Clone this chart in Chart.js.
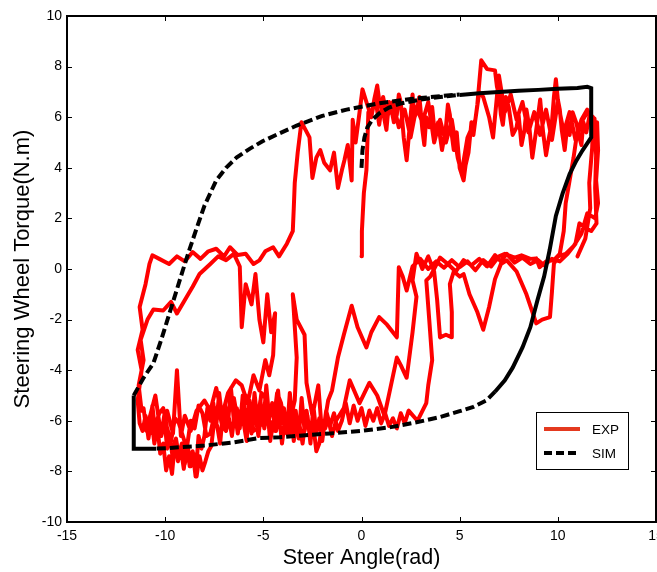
<!DOCTYPE html>
<html>
<head>
<meta charset="utf-8">
<script src="https://cdn.jsdelivr.net/npm/chart.js@4.4.1/dist/chart.umd.min.js"></script>
<style>
  html, body { margin: 0; padding: 0; background: #fff; overflow: hidden; }
  #wrap { width: 657px; height: 572px; }
</style>
</head>
<body>
<div id="wrap"><canvas id="myChart" width="657" height="572"></canvas></div>
<script>
// measured steering torque vs steer angle, [angle rad, torque N.m]
const expTrace = [
  [0,0.5],[0.02,1.5],[0.12,3.0],[0.25,3.9],[0.3,5.0],[0.35,6.2],
  [0.5,6.0],[0.65,6.7],[0.8,7.25],[0.95,6.4],[1.07,6.5],[1.17,5.9],[1.27,5.5],[1.4,6.6],[1.5,6.4],[1.65,5.8],
  [1.8,6.1],[1.9,6.9],[2.0,6.6],[2.15,5.2],[2.3,4.3],[2.45,5.6],[2.6,6.9],[2.7,6.0],[2.8,6.2],[2.95,6.8],
  [3.1,5.5],[3.2,4.9],[3.3,6.0],[3.45,5.6],[3.6,6.4],[3.75,5.2],[3.9,5.8],[4.1,4.7],[4.3,5.6],[4.4,6.5],
  [4.5,6.1],[4.6,5.3],[4.7,4.7],[4.85,5.4],[5.0,4.0],[5.2,3.5],[5.3,4.1],[5.45,4.6],[5.6,5.8],[5.7,5.3],
  [5.9,6.5],[6.1,8.25],[6.4,7.9],[6.8,7.85],[6.9,7.2],[7.0,6.9],[7.1,6.1],[7.2,5.7],[7.35,6.8],[7.5,6.4],
  [7.7,5.3],[7.9,5.6],[8.0,6.1],[8.15,4.9],[8.3,5.5],[8.4,6.3],[8.55,5.6],[8.7,4.4],[8.9,5.5],[9.0,6.1],
  [9.1,6.7],[9.25,5.4],[9.4,4.5],[9.55,5.2],[9.7,5.8],[9.8,6.8],[9.9,7.5],[10.0,6.7],[10.1,6.3],[10.2,5.5],
  [10.35,4.7],[10.5,5.8],[10.6,5.3],[10.75,6.2],[10.95,5.75],[11.1,5.2],[11.2,4.9],[11.3,5.8],[11.45,5.4],
  [11.6,6.0],[11.87,5.95],
  [11.95,4.5],[11.9,3.2],[11.97,1.8],[11.7,1.5],[11.45,1.6],[11.1,1.8],[10.9,1.0],[10.5,0.6],[10.1,0.3],
  [9.7,0.4],[9.3,0.15],[9.0,0.35],[8.6,0.2],[8.2,0.45],[7.8,0.25],[7.4,0.6],[7.1,0.3],[6.8,0.55],[6.4,0.1],
  [6.0,0.4],[5.6,0.15],[5.2,0.35],[4.8,-0.1],[4.4,0.2],[4.0,0.45],[3.8,0.15],
  [3.5,-0.3],[3.3,-0.45],[3.45,-2.0],[3.6,-3.6],[3.4,-4.6],[3.3,-5.3],[2.85,-6.0],
  [2.4,-5.6],[2.2,-6.1],[2.0,-5.7],[1.8,-6.3],[1.6,-5.9],[1.4,-6.2],[1.2,-5.7],[1.0,-6.1],[0.8,-5.5],
  [0.6,-6.0],[0.4,-5.6],[0.2,-6.2],[0.0,-5.5],[-0.2,-6.0],[-0.4,-5.4],[-0.6,-6.1],[-0.8,-5.3],[-1.0,-6.0],
  [-1.2,-6.4],[-1.4,-5.7],[-1.6,-6.2],[-1.8,-5.6],[-2.0,-6.8],[-2.15,-5.9],[-2.3,-6.5],[-2.45,-5.4],
  [-2.6,-6.9],[-2.75,-5.8],[-2.9,-6.4],[-3.05,-5.1],[-3.2,-6.7],[-3.35,-5.6],[-3.5,-6.2],[-3.65,-4.9],
  [-3.8,-6.5],[-3.95,-5.5],[-4.1,-6.1],[-4.25,-4.8],[-4.4,-6.4],[-4.55,-5.3],[-4.7,-5.9],[-4.85,-4.6],
  [-5.0,-6.2],[-5.15,-5.2],[-5.3,-6.0],[-5.45,-4.9],[-5.6,-6.5],[-5.75,-5.4],[-5.9,-6.1],[-6.05,-5.0],
  [-6.2,-6.3],[-6.35,-5.5],[-6.5,-6.0],[-6.65,-4.7],[-6.8,-6.1],[-6.95,-5.4],[-7.1,-5.9],[-7.25,-4.9],
  [-7.4,-6.2],[-7.55,-5.3],[-7.7,-6.0],[-7.85,-5.5],[-8.0,-6.6],[-8.15,-7.1],[-8.3,-6.6],[-8.45,-8.2],
  [-8.6,-7.2],[-8.75,-7.8],[-8.9,-6.9],[-9.05,-7.9],[-9.2,-7.1],[-9.35,-7.6],[-9.5,-6.8],[-9.65,-8.1],
  [-9.8,-7.4],[-9.95,-7.96],[-10.1,-6.9],[-10.25,-7.3],[-10.4,-6.2],[-10.55,-6.9],[-10.7,-5.9],[-10.85,-6.7],
  [-11.0,-5.8],[-11.15,-6.4],[-11.3,-6.1],
  [-11.4,-5.2],[-11.2,-4.0],[-11.4,-3.2],[-11.15,-2.4],[-11.3,-1.5],[-11.0,-0.6],[-10.8,0.2],[-10.65,0.54],
  [-10.3,0.4],[-9.8,0.2],[-9.4,0.5],[-9.0,0.3],[-8.6,0.67],[-8.2,0.4],[-7.8,0.7],[-7.4,0.8],[-7.0,0.5],
  [-6.7,0.86],[-6.3,0.55],[-5.9,0.6],[-5.5,0.2],[-5.2,0.34],[-4.9,0.7],[-4.5,0.86],[-4.2,0.5],[-3.8,1.0],[-3.5,1.5],
  [-3.45,2.4],[-3.4,3.4],[-3.25,4.6],[-3.06,5.8],
  [-2.85,5.5],[-2.65,5.2],[-2.5,3.6],[-2.3,4.4],[-2.1,4.7],[-1.9,4.2],[-1.6,3.9],[-1.4,4.6],[-1.2,3.2],
  [-1.0,3.9],[-0.87,4.3],[-0.7,4.9],[-0.5,3.5],[-0.45,5.9],[-0.3,5.0],[-0.1,6.2],[0.05,7.1],[0.25,6.6],
  [0.5,6.0],[0.7,6.8],[0.9,5.7],[1.1,6.8],[1.3,6.0],[1.6,6.6],[1.9,5.6],[2.2,6.3],[2.5,5.2],[2.8,6.4],
  [3.1,5.8],[3.4,6.6],[3.7,5.0],[4.0,5.9],[4.3,5.0],[4.6,5.9],[4.9,4.4],[5.1,3.8],[5.4,5.2],[5.8,5.9],
  [6.0,7.0],[6.2,6.8],[6.5,6.0],[6.7,5.2],[7.0,7.65],[7.3,6.2],[7.6,6.9],[7.9,5.9],[8.2,6.6],[8.5,5.4],
  [8.8,6.2],[9.1,5.3],[9.4,6.3],[9.7,5.1],[10.0,6.6],[10.3,5.4],[10.6,6.2],[10.9,5.1],[11.2,5.9],[11.5,6.3],
  [11.8,5.6],[12.0,5.8],
  [12.05,4.7],[11.95,3.5],[12.05,2.6],[11.9,2.0],[11.5,2.2],[11.2,1.4],[10.8,0.9],[10.4,0.6],[10.0,0.5],
  [9.8,0.2],[9.7,-0.9],[9.6,-1.9],[9.2,-2.0],[8.9,-2.15],[8.4,-1.0],[7.9,-0.1],[7.4,0.34],
  [7.1,0.2],[6.8,-0.4],[6.5,-1.5],[6.2,-2.4],[5.9,-1.7],[5.5,-1.0],[5.2,-0.2],[5.0,-0.3],[4.7,-0.1],
  [4.5,-0.6],[4.6,-1.7],[4.6,-2.7],[4.3,-2.6],[4.0,-2.7],[3.85,-1.2],[3.7,-0.1],[3.4,0.5],[3.1,0.0],
  [2.8,0.6],[2.6,-0.45],
  [2.8,-1.1],[2.6,-2.5],[2.3,-4.3],[2.0,-3.8],[1.8,-3.5],[1.5,-4.6],[1.17,-5.8],[0.8,-5.0],[0.4,-4.5],
  [-0.1,-5.3],[-0.6,-4.4],[-0.9,-5.5],[-1.3,-6.0],
  [-1.5,-6.6],[-1.7,-5.9],[-1.85,-6.3],[-2.0,-6.1],[-2.15,-6.9],[-2.3,-7.2],[-2.45,-6.2],[-2.6,-6.6],
  [-2.8,-5.6],[-3.0,-6.9],[-3.15,-6.2],[-3.3,-5.9],[-3.45,-6.8],[-3.6,-5.4],[-3.75,-6.3],[-3.9,-6.0],
  [-4.05,-6.9],[-4.2,-5.7],[-4.35,-6.4],[-4.5,-6.1],[-4.65,-6.8],[-4.8,-5.5],[-4.95,-6.3],[-5.1,-5.6],
  [-5.25,-6.6],[-5.4,-5.8],[-5.55,-6.2],[-5.7,-5.2],[-5.85,-6.8],[-6.0,-6.1],[-6.15,-5.6],[-6.3,-6.5],
  [-6.45,-5.7],[-6.6,-6.6],[-6.75,-5.9],[-6.9,-6.4],[-7.05,-5.6],[-7.2,-6.9],[-7.35,-6.2],[-7.5,-6.0],
  [-7.65,-7.0],[-7.8,-7.2],[-7.95,-7.6],[-8.1,-7.96],[-8.25,-7.4],[-8.4,-8.2],[-8.55,-7.3],[-8.7,-7.8],
  [-8.85,-7.0],[-9.0,-7.7],[-9.15,-6.9],[-9.3,-7.4],[-9.45,-6.7],[-9.6,-7.6],[-9.75,-6.6],[-9.9,-7.1],
  [-10.05,-5.8],[-10.2,-6.6],[-10.35,-5.9],[-10.5,-6.5],[-10.65,-5.4],[-10.8,-6.2],[-10.95,-6.4],[-11.1,-5.5],
  [-11.2,-5.6],
  [-11.35,-4.6],[-11.1,-3.6],[-11.25,-2.8],[-10.9,-2.0],[-10.6,-1.6],[-10.1,-1.64],[-9.7,-1.3],[-9.4,-1.76],
  [-8.9,-1.1],[-8.6,-0.7],[-8.25,-0.2],[-7.7,0.2],[-7.3,0.5],[-6.9,0.35],[-6.5,0.6],[-6.2,0.1],
  [-6.1,-2.3],[-5.9,-0.6],[-5.6,-1.4],[-5.4,-0.2],[-5.2,-2.0],[-5.0,-2.9],[-4.8,-1.0],[-4.6,-2.5],[-4.4,-1.75],
  [-4.5,-3.4],[-4.7,-4.2],[-4.9,-3.6],[-5.2,-4.8],[-5.5,-4.2],[-5.8,-5.3],[-6.1,-4.6],[-6.4,-4.4],[-6.8,-4.9],
  [-7.1,-5.8],[-7.4,-4.7],[-7.7,-5.6],[-8.0,-5.2],[-8.4,-5.6],[-8.7,-6.4],[-9.0,-5.8],[-9.2,-6.6],[-9.4,-4.0],
  [-9.6,-6.5],[-9.9,-5.6],[-10.2,-6.6],[-10.5,-5.0],[-10.8,-5.9],
  [-10.65,-6.5],[-10.5,-6.2],[-10.3,-5.7],[-10.1,-5.5],[-9.9,-6.3],[-9.7,-6.8],[-9.5,-5.9],[-9.3,-6.1],
  [-9.1,-6.6],[-8.9,-7.1],[-8.7,-6.0],[-8.5,-6.3],[-8.3,-5.4],[-8.1,-5.7],[-7.9,-6.6],[-7.7,-6.5],[-7.5,-5.8],
  [-7.3,-5.4],[-7.1,-6.2],[-6.9,-6.4],[-6.7,-5.3],[-6.5,-5.1],[-6.3,-6.0],[-6.1,-6.1],[-5.9,-5.0],[-5.7,-5.3],
  [-5.5,-6.4],[-5.3,-6.3],[-5.1,-4.9],[-4.9,-5.1],[-4.7,-6.0],[-4.5,-6.2],[-4.3,-4.9],[-4.1,-5.3],[-3.9,-6.2],
  [-3.7,-6.6],[-3.55,-5.7],
  [-3.4,-5.2],[-3.3,-3.5],[-3.5,-1.0],[-3.3,-2.0],[-2.9,-2.6],[-2.8,-4.5],[-2.5,-5.8],[-2.2,-4.6],[-2.0,-6.6],
  [-1.7,-5.2],[-1.5,-4.8],[-1.2,-3.5],[-0.9,-2.6],[-0.5,-1.45],[-0.2,-2.3],[0.25,-3.1],[0.5,-2.5],[0.9,-1.9],
  [1.3,-2.2],[1.8,-2.7],[1.9,0.07],[2.1,-0.3],[2.3,-0.85],[2.6,0.1],
  [3.0,0.4],[3.4,0.0],[3.8,0.3],[4.2,0.05],[4.6,0.35],[5.0,0.07],[5.4,0.3],[5.8,-0.05],[6.2,0.35],[6.6,0.1],
  [7.0,0.5],[7.3,0.6],[7.8,0.45],[8.15,0.54],[8.6,0.4],[8.9,0.42],[9.07,0.07],[9.4,0.3],[9.8,0.35],[10.1,0.6],
  [10.3,1.5],[10.4,2.6],[10.6,3.5],[10.8,4.4],[10.95,5.2],[11.2,5.8],[11.5,6.2],[11.8,6.0],
  [11.75,4.8],[11.6,3.4],[11.65,2.4],[11.4,1.2],[11.0,0.5]
];

// simulated hysteresis loop
const simAngle = [
  0, 0.05, 0.15, 0.3, 0.55, 0.9, 1.4, 1.94, 3, 4, 5, 6, 7, 8, 9, 10, 11, 11.5, 11.7,
  11.7, 11.26, 10.95, 10.6, 10.24, 9.9, 9.58, 9.3, 8.96, 8.6, 8.2, 7.7, 7.3, 6.8, 6.37, 5.7, 5.0, 4, 2.8,
  1.5, 0, -1.6, -3, -4.18, -5.2, -6.5, -8, -9.93, -10.45, -11.6,
  -11.6, -11.1, -10.6, -10.2, -9.78, -9.4, -9.1, -8.75, -8.4, -8.0, -7.4, -6.9, -6.37, -5.7, -5.04,
  -4.18, -3.3, -2.0, -0.76, 0.92, 2.5, 4, 5
];
const simTorque = [
  4.0, 4.7, 5.2, 5.6, 5.9, 6.15, 6.38, 6.53, 6.7, 6.8, 6.88, 6.95, 7.0, 7.05, 7.08, 7.12, 7.15, 7.2, 7.15,
  5.2, 4.69, 4.29, 3.75, 2.98, 2.1, 0.74, -0.3, -1.24, -2.3, -3.1, -3.9, -4.4, -4.85, -5.19, -5.45, -5.62, -5.85, -6.06,
  -6.25, -6.4, -6.5, -6.58, -6.65, -6.68, -6.85, -6.98, -7.08, -7.1, -7.1,
  -5.0, -4.3, -3.72, -2.8, -1.75, -0.8, -0.05, 0.8, 1.6, 2.5, 3.5, 4.0, 4.4, 4.75, 5.05,
  5.36, 5.67, 6.05, 6.3, 6.55, 6.72, 6.83, 6.9
];

const xRange = [-15, 15];
const yRange = [-10, 10];
const seriesNames = ["EXP", "SIM"];

const FONT = '"Liberation Sans", Arial, Helvetica, sans-serif';
Chart.defaults.font.family = FONT;
Chart.defaults.color = "#000";

// the sim curve is drawn solid where it hugs the right-hand end and the lower left corner
function simSolid(ctx) {
  const a = ctx.p0.parsed, b = ctx.p1.parsed;
  if (a.x >= 4.5 && b.x >= 4.5 && a.y > -4.9 && b.y > -4.9) return true;
  if (a.x <= -10.4 && b.x <= -10.4 && a.y < -4.9 && b.y < -4.9) return true;
  return false;
}

// frame, inward ticks on all four sides and the boxed legend
const frameAndLegend = {
  id: "frameAndLegend",
  afterDatasetsDraw(chart) {
    const { ctx, chartArea: a, scales: { x, y } } = chart;
    ctx.save();
    ctx.strokeStyle = "#000";
    ctx.lineWidth = 1;
    ctx.beginPath();
    x.ticks.forEach(t => {
      const px = Math.round(x.getPixelForValue(t.value)) + 0.5;
      ctx.moveTo(px, a.bottom); ctx.lineTo(px, a.bottom - 5);
      ctx.moveTo(px, a.top); ctx.lineTo(px, a.top + 5);
    });
    y.ticks.forEach(t => {
      const py = Math.round(y.getPixelForValue(t.value)) + 0.5;
      ctx.moveTo(a.left, py); ctx.lineTo(a.left + 5, py);
      ctx.moveTo(a.right, py); ctx.lineTo(a.right - 5, py);
    });
    ctx.stroke();
    ctx.lineWidth = 2;
    ctx.strokeRect(a.left, a.top, a.right - a.left, a.bottom - a.top);

    // legend box
    const bw = 92, bh = 57;
    const bx = a.right - 28 - bw, by = a.bottom - 110;
    ctx.fillStyle = "#fff";
    ctx.fillRect(bx, by, bw, bh);
    ctx.lineWidth = 1;
    ctx.strokeRect(bx + 0.5, by + 0.5, bw, bh);
    const ds = chart.data.datasets;
    const rows = [by + 17, by + 41];
    ds.forEach((d, i) => {
      const ly = rows[i];
      ctx.beginPath();
      ctx.lineWidth = 4;
      ctx.strokeStyle = i === 0 ? "#e4391f" : "#000";
      ctx.setLineDash(i === 0 ? [] : [8, 4]);
      ctx.lineCap = "butt";
      ctx.moveTo(bx + 8, ly);
      ctx.lineTo(bx + 44, ly);
      ctx.stroke();
      ctx.setLineDash([]);
      ctx.fillStyle = "#000";
      ctx.font = "13.5px " + FONT;
      ctx.textBaseline = "middle";
      ctx.fillText(d.label, bx + 56, ly + 1);
    });
    ctx.restore();
  }
};

const ctx = document.getElementById("myChart");

new Chart(ctx, {
  type: "scatter",
  data: {
    datasets: [
      {
        label: seriesNames[0],
        data: expTrace.map(p => ({ x: p[0], y: p[1] })),
        showLine: true,
        borderColor: "#ff0000",
        borderWidth: 4,
        borderJoinStyle: "round",
        borderCapStyle: "round",
        pointRadius: 0,
        order: 2
      },
      {
        label: seriesNames[1],
        data: simAngle.map((v, i) => ({ x: v, y: simTorque[i] })),
        showLine: true,
        borderColor: "#000",
        borderWidth: 4,
        borderDash: [9, 4],
        pointRadius: 0,
        order: 1,
        segment: {
          borderDash: c => (simSolid(c) ? [] : [9, 4])
        }
      }
    ]
  },
  options: {
    responsive: false,
    animation: false,
    layout: { padding: { top: 16, left: 0, right: 1, bottom: 0 } },
    plugins: {
      legend: { display: false },
      tooltip: { enabled: false }
    },
    scales: {
      x: {
        type: "linear",
        min: xRange[0],
        max: xRange[1],
        grid: { display: false, drawTicks: false },
        border: { display: false },
        ticks: { stepSize: 5, padding: 6, font: { size: 14 }, maxRotation: 0 },
        title: { display: true, text: "Steer Angle(rad)", font: { size: 21.5 }, padding: { top: 0, bottom: 1 } },
        afterFit: s => { s.height = 50; s.paddingLeft = 0; s.paddingRight = 0; }
      },
      y: {
        min: yRange[0],
        max: yRange[1],
        grid: { display: false, drawTicks: false },
        border: { display: false },
        ticks: { stepSize: 2, padding: 5, font: { size: 14 } },
        title: { display: true, text: "Steering Wheel Torque(N.m)", font: { size: 22 }, padding: { top: 10, bottom: 0 } },
        afterFit: s => { s.width = 67; }
      }
    }
  },
  plugins: [frameAndLegend]
});
</script>
</body>
</html>
